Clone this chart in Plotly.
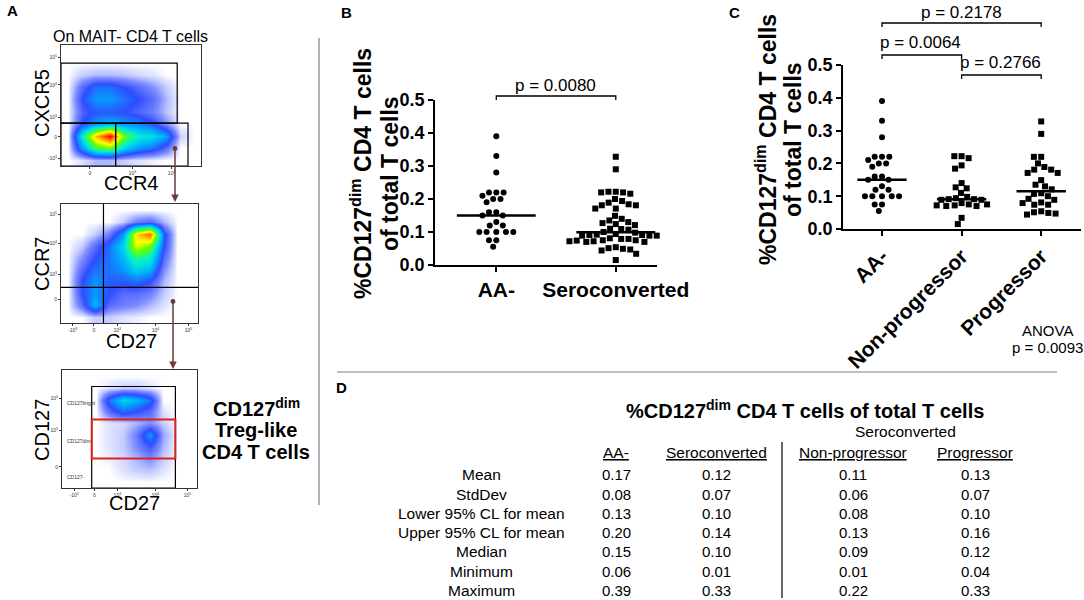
import numpy as np
import plotly.graph_objects as go

# ---- data ----
aa_neg = [0.39, 0.33, 0.28, 0.22, 0.22, 0.22, 0.21, 0.20, 0.20, 0.19, 0.16, 0.16, 0.15,
          0.15, 0.13, 0.12, 0.12, 0.10, 0.10, 0.10, 0.10, 0.10, 0.075, 0.075, 0.055]
non_prog = [0.222, 0.216, 0.222, 0.194, 0.184, 0.140, 0.127, 0.124, 0.110, 0.098, 0.094, 0.091,
            0.089, 0.089, 0.091, 0.079, 0.075, 0.072, 0.070, 0.070, 0.072, 0.075, 0.034, 0.015]
prog = [0.328, 0.290, 0.220, 0.220, 0.200, 0.189, 0.181, 0.181, 0.171, 0.171, 0.149, 0.135,
        0.130, 0.121, 0.109, 0.100, 0.107, 0.092, 0.089, 0.081, 0.074, 0.074, 0.079, 0.054,
        0.047, 0.044, 0.049, 0.051]
seroconv = non_prog + prog

b_groups = ["AA-", "Seroconverted"]
c_groups = ["AA-", "Non-progressor", "Progressor"]
b_pvals = ["p = 0.0080"]
c_pvals = ["p = 0.2178", "p = 0.0064", "p = 0.2766"]
y_ticks = [0.0, 0.1, 0.2, 0.3, 0.4, 0.5]

table_rows = ["Mean", "StdDev", "Lower 95% CL for mean", "Upper 95% CL for mean",
              "Median", "Minimum", "Maximum"]
table_cols = ["AA-", "Seroconverted", "Non-progressor", "Progressor"]
col_aa = ["0.17", "0.08", "0.13", "0.20", "0.15", "0.06", "0.39"]
col_sero = ["0.12", "0.07", "0.10", "0.14", "0.10", "0.01", "0.33"]
col_nonprog = ["0.11", "0.06", "0.08", "0.13", "0.09", "0.01", "0.22"]
col_prog = ["0.13", "0.07", "0.10", "0.16", "0.12", "0.04", "0.33"]

# rough cell densities of the three flow plots (rows top -> bottom, 10x10 grid)
dens_cxcr5 = [
    [0, 0, 0, 0, 0, 0, 0, 0, 0, 0],
    [0, 0, 0, 0, 0, 0, 0, 0, 0, 0],
    [0, 0.04, 0.06, 0.06, 0.05, 0.03, 0.02, 0, 0, 0],
    [0, 0.15, 0.25, 0.25, 0.2, 0.15, 0.1, 0.04, 0, 0],
    [0, 0.2, 0.3, 0.3, 0.25, 0.2, 0.15, 0.06, 0, 0],
    [0, 0.16, 0.22, 0.22, 0.2, 0.16, 0.12, 0.05, 0, 0],
    [0, 0.2, 0.3, 0.35, 0.3, 0.28, 0.22, 0.1, 0, 0],
    [0, 0.45, 0.8, 1.0, 0.6, 0.45, 0.42, 0.32, 0.04, 0],
    [0, 0.3, 0.55, 0.6, 0.4, 0.3, 0.25, 0.15, 0, 0],
    [0, 0.02, 0.06, 0.06, 0.04, 0.02, 0.01, 0, 0, 0],
]
dens_ccr7 = [
    [0, 0, 0, 0, 0, 0, 0, 0, 0, 0],
    [0, 0, 0, 0, 0.04, 0.12, 0.15, 0.06, 0, 0],
    [0, 0, 0.04, 0.12, 0.3, 0.75, 0.9, 0.22, 0, 0],
    [0, 0.04, 0.15, 0.25, 0.4, 0.7, 0.6, 0.2, 0, 0],
    [0, 0.1, 0.2, 0.25, 0.35, 0.5, 0.45, 0.15, 0, 0],
    [0, 0.15, 0.25, 0.25, 0.3, 0.4, 0.35, 0.1, 0, 0],
    [0, 0.2, 0.3, 0.22, 0.22, 0.25, 0.2, 0.06, 0, 0],
    [0, 0.2, 0.3, 0.2, 0.15, 0.15, 0.12, 0.04, 0, 0],
    [0, 0.15, 0.35, 0.15, 0.12, 0.1, 0.06, 0.02, 0, 0],
    [0, 0, 0.04, 0.04, 0.02, 0.01, 0, 0, 0, 0],
]
dens_cd127 = [
    [0, 0, 0, 0, 0, 0, 0, 0, 0, 0],
    [0, 0, 0, 0.02, 0.04, 0.04, 0.02, 0, 0, 0],
    [0, 0, 0, 0.25, 0.4, 0.35, 0.25, 0, 0, 0],
    [0, 0, 0, 0.15, 0.25, 0.2, 0.15, 0.02, 0, 0],
    [0, 0, 0, 0.02, 0.03, 0.06, 0.1, 0.04, 0, 0],
    [0, 0, 0, 0.02, 0.04, 0.12, 0.3, 0.08, 0, 0],
    [0, 0, 0, 0.02, 0.04, 0.1, 0.18, 0.06, 0, 0],
    [0, 0, 0, 0.01, 0.03, 0.06, 0.1, 0.04, 0, 0],
    [0, 0, 0, 0, 0.02, 0.04, 0.05, 0.02, 0, 0],
    [0, 0, 0, 0, 0, 0, 0, 0, 0, 0],
]

W, H = 1084, 600
FONT = "Liberation Sans, Arial, sans-serif"


def px(x):
    return min(max(x / W, 0), 1)


def py(y):
    return min(max(1 - y / H, 0), 1)


def swarm(vals, ppx, ppy, d=7.3):
    # simple beeswarm: nearest free horizontal slot (in pixels)
    placed, offs = [], []
    for v in vals:
        y = v * ppy
        forb = []
        for xp, yp in placed:
            dy = abs(y - yp)
            if dy < d:
                h = (d * d - dy * dy) ** 0.5
                forb.append((xp - h, xp + h))
        cands = [0.0] + [a for a, b in forb] + [b for a, b in forb]
        cands.sort(key=lambda c: (abs(c), c))
        x = 0.0
        for c in cands:
            if all(not (a + 1e-6 < c < b - 1e-6) for a, b in forb):
                x = c
                break
        placed.append((x, y))
        offs.append(x / ppx)
    return offs


fig = go.Figure()

# ---- panel B ----
b_sets = [aa_neg, seroconv]
b_sym = ["circle", "square"]
for i, vals in enumerate(b_sets):
    vs = sorted(vals, reverse=True)
    off = swarm(vs, 119, 330)
    fig.add_trace(go.Scatter(x=[i + o for o in off], y=vs, mode="markers", xaxis="x", yaxis="y",
                             marker=dict(symbol=b_sym[i], size=6, color="black"), cliponaxis=False))
    m = float(np.median(vals))
    fig.add_trace(go.Scatter(x=[i - 0.33, i + 0.33], y=[m, m], mode="lines", xaxis="x", yaxis="y",
                             line=dict(color="black", width=2.5)))

# ---- panel C ----
c_sets = [aa_neg, non_prog, prog]
c_sym = ["circle", "square", "square"]
for i, vals in enumerate(c_sets):
    vs = sorted(vals, reverse=True)
    off = swarm(vs, 79.5, 328)
    fig.add_trace(go.Scatter(x=[i + o for o in off], y=vs, mode="markers", xaxis="x2", yaxis="y2",
                             marker=dict(symbol=c_sym[i], size=6, color="black"), cliponaxis=False))
    m = float(np.median(vals))
    fig.add_trace(go.Scatter(x=[i - 0.31, i + 0.31], y=[m, m], mode="lines", xaxis="x2", yaxis="y2",
                             line=dict(color="black", width=2.5)))

# ---- panel A flow plots ----
jet = [[0, "white"], [0.015, "#e4e8ff"], [0.1, "#7d8cff"], [0.2, "#2f4cff"], [0.32, "#00a8ff"],
       [0.45, "#00f0d0"], [0.6, "#60ff00"], [0.72, "#ffff00"], [0.86, "#ff8000"], [1, "#ff0000"]]
grid = [k + 0.5 for k in range(10)]
for k, dens in enumerate([dens_cxcr5, dens_ccr7, dens_cd127]):
    fig.add_trace(go.Heatmap(z=dens[::-1], x=grid, y=grid, colorscale=jet, zmin=0, zmax=1,
                             zsmooth="best", showscale=False, xaxis="x%d" % (k + 3), yaxis="y%d" % (k + 3)))

axis_common = dict(showgrid=False, zeroline=False, showline=True, linecolor="black", linewidth=1.5,
                   ticks="outside", tickwidth=1.5, ticklen=5, tickcolor="black",
                   tickfont=dict(family=FONT, size=18, color="black", weight="bold"))

flow_ax = dict(showgrid=False, zeroline=False, showline=True, mirror=True, linecolor="#333",
               linewidth=1, ticks="outside", ticklen=2, tickcolor="#333",
               tickfont=dict(family=FONT, size=5, color="#333"), range=[0, 10])
p10 = ["-10<sup>3</sup>", "0", "10<sup>3</sup>", "10<sup>4</sup>", "10<sup>5</sup>"]

fig.update_layout(
    width=W, height=H, margin=dict(l=0, r=0, t=0, b=0, autoexpand=False),
    paper_bgcolor="white", plot_bgcolor="white", showlegend=False,
    font=dict(family=FONT, color="black"),
    xaxis=dict(axis_common, domain=[px(435), px(657)], range=[-0.513, 1.345],
               tickvals=[0, 1], ticktext=b_groups, anchor="y",
               tickfont=dict(family=FONT, size=21, color="black", weight="bold")),
    yaxis=dict(axis_common, domain=[py(265), py(100)], range=[0, 0.5], tickvals=y_ticks,
               tickformat=".1f", anchor="x"),
    xaxis2=dict(axis_common, domain=[px(843), px(1081)], range=[-0.49, 2.5],
                tickvals=[0, 1, 2], ticktext=c_groups, tickangle=-45, anchor="y2",
                tickfont=dict(family=FONT, size=21, color="black", weight="bold")),
    yaxis2=dict(axis_common, domain=[py(229), py(65)], range=[0, 0.5], tickvals=y_ticks,
                tickformat=".1f", anchor="x2"),
    xaxis3=dict(flow_ax, domain=[px(61), px(201)], anchor="y3",
                tickvals=[2.07, 5.1, 7.9], ticktext=p10[1:4]),
    yaxis3=dict(flow_ax, domain=[py(166), py(45)], anchor="x3",
                tickvals=[0.66, 2.4, 4.0, 6.7, 9.0], ticktext=p10),
    xaxis4=dict(flow_ax, domain=[px(61), px(198)], anchor="y4",
                tickvals=[0.85, 2.4, 4.1, 6.9, 9.3], ticktext=p10),
    yaxis4=dict(flow_ax, domain=[py(323), py(204)], anchor="x4",
                tickvals=[2.0, 4.1, 6.7, 9.1], ticktext=p10[1:]),
    xaxis5=dict(flow_ax, domain=[px(62), px(197)], anchor="y5",
                tickvals=[0.9, 2.4, 4.1, 6.9, 9.3], ticktext=p10),
    yaxis5=dict(flow_ax, domain=[py(488), py(370)], anchor="x5",
                tickvals=[1.8, 4.9, 7.6], ticktext=p10[1:4]),
)

shapes = []
ann = []


def line(x0, y0, x1, y1, color="#808080", w=1.2):
    shapes.append(dict(type="line", xref="paper", yref="paper", x0=px(x0), y0=py(y0),
                       x1=px(x1), y1=py(y1), line=dict(color=color, width=w)))


def text(x, y, s, size=16, bold=False, xa="center", angle=0, color="black"):
    ann.append(dict(x=px(x), y=py(y), xref="paper", yref="paper", text=s, showarrow=False,
                    xanchor=xa, yanchor="middle", textangle=angle,
                    font=dict(family=FONT, size=size, color=color, weight="bold" if bold else "normal")))


# separators
line(319, 38, 319, 505)
line(337, 372, 1057, 372)


# significance brackets
def bracket(xr, i, j, ytop, label, ylab, xlab):
    shapes.append(dict(type="path", xref=xr, yref="paper",
                       path="M %f,%f L %f,%f L %f,%f L %f,%f" % (i, py(ytop + 4), i, py(ytop),
                                                                j, py(ytop), j, py(ytop + 4)),
                       line=dict(color="black", width=1.3)))
    text(xlab, ylab, label, size=17)


bracket("x", 0, 1, 96, b_pvals[0], 86, 555)
bracket("x2", 0, 2, 23, c_pvals[0], 12, 961)
bracket("x2", 0, 1, 55, c_pvals[1], 43, 920)
bracket("x2", 1, 2, 75, c_pvals[2], 63, 1000)

# panel letters
text(12, 11, "A", 15, True)
text(346, 12, "B", 15, True)
text(734, 12, "C", 15, True)
text(341, 388, "D", 15, True)

# axis titles B and C (two separate lines)
t1 = "%CD127<sup>dim</sup> CD4 T cells"
t2 = "of total T cells"
text(361, 174, t1, 23, True, angle=-90)
text(390, 174, t2, 23, True, angle=-90)
text(766, 140, t1, 23, True, angle=-90)
text(793, 140, t2, 23, True, angle=-90)
text(1047, 330, "ANOVA", 15)
text(1047, 347, "p = 0.0093", 15)

# panel A texts
text(130, 36, "On MAIT- CD4 T cells", 16)
text(42, 103, "CXCR5", 20, angle=-90)
text(131, 183, "CCR4", 20)
text(42, 264, "CCR7", 20, angle=-90)
text(131, 341, "CD27", 20)
text(42, 430, "CD127", 20, angle=-90)
text(134, 503, "CD27", 20)
text(256, 407, "CD127<sup>dim</sup>", 20, True)
text(256, 430, "Treg-like", 20, True)
text(256, 452, "CD4 T cells", 20, True)


# gates (flow units)
def gate(k, x0, y0, x1, y1, color="black", w=1.2):
    shapes.append(dict(type="rect", xref="x%d" % k, yref="y%d" % k, x0=x0, y0=y0, x1=x1, y1=y1,
                       line=dict(color=color, width=w)))


gate(3, 0, 3.55, 8.3, 8.5)
gate(3, 0, 0, 3.9, 3.55)
gate(3, 3.9, 0, 9.07, 3.55)
shapes.append(dict(type="line", xref="x4", yref="y4", x0=3.1, x1=3.1, y0=0, y1=10,
                   line=dict(color="black", width=1.2)))
shapes.append(dict(type="line", xref="x4", yref="y4", x0=0, x1=10, y0=3.0, y1=3.0,
                   line=dict(color="black", width=1.2)))
gate(5, 2.2, 0, 8.4, 8.6)
gate(5, 2.2, 2.5, 8.4, 5.8, color="#e0201b", w=2)
for s, yy in [("CD127bright", 7.2), ("CD127dim", 4.0), ("CD127-", 0.9)]:
    ann.append(dict(x=0.25, y=yy, xref="x5", yref="y5", text=s, showarrow=False, xanchor="left",
                    font=dict(family=FONT, size=5, color="#333")))

# gating arrows (tail offset given in pixels)
for x0, y0, y1 in [(175, 147, 202), (173, 300, 369)]:
    ann.append(dict(x=px(x0), y=py(y1), xref="paper", yref="paper", ax=0, ay=y0 - y1,
                    text="", showarrow=True, arrowhead=2,
                    arrowside="end+start", startarrowhead=6, arrowsize=1, startarrowsize=0.8,
                    arrowwidth=1.5, arrowcolor="#6b3a3a"))

# table D
text(805, 409, "%CD127<sup>dim</sup> CD4 T cells of total T cells", 20, True)
text(905, 431, "Seroconverted", 15.5)
col_x = [616, 716, 853, 975]
for cx, name in zip(col_x, table_cols):
    text(cx, 452, "<u>" + name + "</u>", 15.5)
line(782, 442, 782, 598, color="black", w=1.2)
row_y = [474, 494, 513, 532, 551, 571, 590]
for ry, lab, a, b, c, d in zip(row_y, table_rows, col_aa, col_sero, col_nonprog, col_prog):
    text(482, ry, lab, 15.5)
    for cx, v in zip(col_x, [a, b, c, d]):
        text(cx, ry, v, 15)

fig.update_layout(shapes=shapes, annotations=ann)
# drop the default body margin so the 1084x600 figure fills the window exactly
fig.write_html("out.html", config={"displayModeBar": False},
               post_script="document.body.style.margin='0';document.body.style.overflow='hidden';")
